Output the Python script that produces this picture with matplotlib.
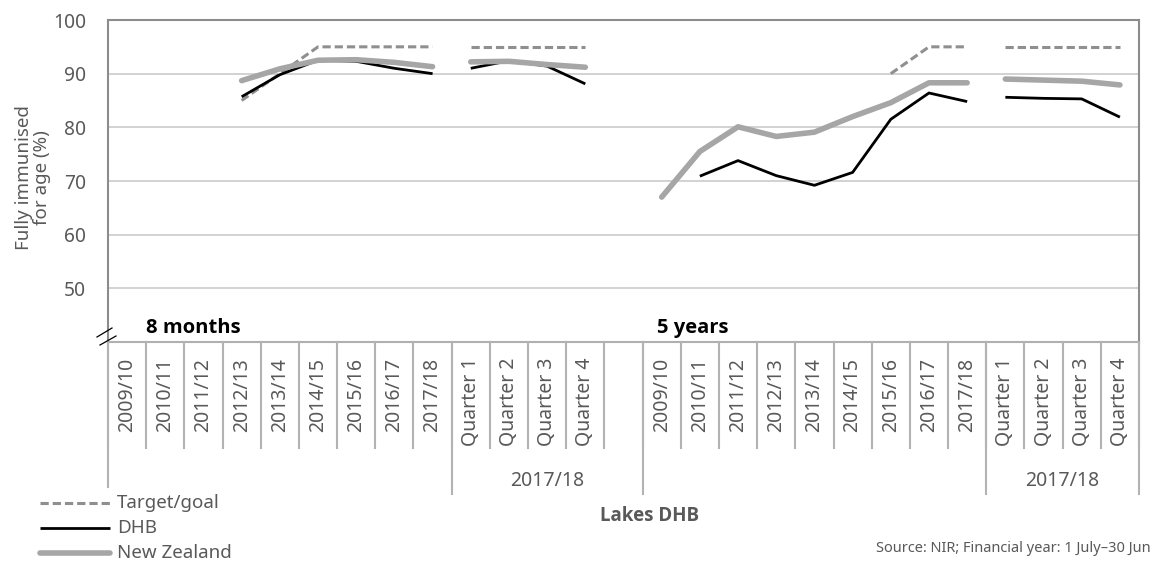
import numpy as np
import matplotlib
matplotlib.use('Agg')
import matplotlib.pyplot as plt
from matplotlib.transforms import blended_transform_factory
from matplotlib.lines import Line2D

plt.rcParams['font.family'] = ['Noto Sans', 'DejaVu Sans']
BOLD_FAMILY = ['Open Sans', 'DejaVu Sans']

# ---------------- data ----------------
years = ['2009/10', '2010/11', '2011/12', '2012/13', '2013/14',
         '2014/15', '2015/16', '2016/17', '2017/18']
quarters = ['Quarter 1', 'Quarter 2', 'Quarter 3', 'Quarter 4']
quarter_group = '2017/18'
age_groups = ['8 months', '5 years']

nan = np.nan
target_8m_annual = [nan, nan, nan, 85, 90, 95, 95, 95, 95]
target_8m_quarter = [95, 95, 95, 95]
dhb_8m_annual = [nan, nan, nan, 85.7, 89.8, 92.5, 92.3, 91.0, 90.0]
dhb_8m_quarter = [91.0, 92.4, 91.4, 88.1]
nz_8m_annual = [nan, nan, nan, 88.7, 90.9, 92.5, 92.6, 92.1, 91.3]
nz_8m_quarter = [92.2, 92.3, 91.7, 91.2]

target_5y_annual = [nan, nan, nan, nan, nan, nan, 90, 95, 95]
target_5y_quarter = [95, 95, 95, 95]
dhb_5y_annual = [nan, 70.9, 73.8, 71.0, 69.2, 71.6, 81.5, 86.4, 84.8]
dhb_5y_quarter = [85.6, 85.4, 85.3, 81.9]
nz_5y_annual = [67.0, 75.5, 80.1, 78.3, 79.1, 82.0, 84.6, 88.3, 88.3]
nz_5y_quarter = [89.0, 88.8, 88.6, 87.9]

series = {
    'Target/goal': [(target_8m_annual, target_8m_quarter), (target_5y_annual, target_5y_quarter)],
    'DHB': [(dhb_8m_annual, dhb_8m_quarter), (dhb_5y_annual, dhb_5y_quarter)],
    'New Zealand': [(nz_8m_annual, nz_8m_quarter), (nz_5y_annual, nz_5y_quarter)],
}

# ---------------- styles ----------------
W, H = 1152, 562
TXT = '#595959'
styles = {
    'Target/goal': dict(color='#8f8f8f', lw=2.2, linestyle=(0, (2.7, 1.3)), zorder=3),
    'DHB': dict(color='black', lw=2.0, zorder=4, solid_capstyle='butt'),
    'New Zealand': dict(color='#a6a6a6', lw=4.0, zorder=5, solid_capstyle='round'),
}

fig = plt.figure(figsize=(W / 100, H / 100), dpi=100)
L, R, T, B = 108, 1139, 20, 342
ax = fig.add_axes([L / W, 1 - B / H, (R - L) / W, (B - T) / H])

n_ann, n_q = len(years), len(quarters)
group_len = n_ann + n_q
n_slots = 2 * group_len + 1
starts = [0, group_len + 1]

ax.set_xlim(0, n_slots)
ax.set_ylim(40, 100)
ax.set_xticks([])
ax.set_yticks([50, 60, 70, 80, 90, 100])
ax.tick_params(axis='y', length=0, pad=16, labelsize=13.8, labelcolor=TXT)
for v in [50, 60, 70, 80, 90]:
    ax.axhline(v, color='#cfcfcf', lw=1.3, zorder=1)
for s in ['top', 'left', 'right']:
    ax.spines[s].set_color('#8c8c8c')
    ax.spines[s].set_linewidth(1.5)
ax.spines['bottom'].set_color('#b0b0b0')
ax.spines['bottom'].set_linewidth(1.5)

for name, groups in series.items():
    for g, (ann, q) in enumerate(groups):
        s0 = starts[g]
        xa = s0 + np.arange(n_ann) + 0.5
        xq = s0 + n_ann + np.arange(n_q) + 0.5
        ax.plot(xa, ann, **styles[name])
        ax.plot(xq, q, **styles[name])

def Y(px):
    return 1 - px / H

trans = blended_transform_factory(ax.transData, fig.transFigure)

# group titles inside plot
title_px = [146, 657]
for t, xp in zip(age_groups, title_px):
    fig.text(xp / W, Y(333), t, fontsize=14.5, fontweight='bold', color='black',
             ha='left', va='baseline', family=BOLD_FAMILY)

# category labels
for g in range(2):
    s0 = starts[g]
    labs = years + quarters
    for i, lab in enumerate(labs):
        fig.text(s0 + i + 0.5, Y(358), lab, rotation=90, ha='center', va='top',
                 fontsize=14, color=TXT, transform=trans)

# divider lines
div_col = '#b3b3b3'
for b in range(n_slots + 1):
    fig.add_artist(Line2D([b, b], [Y(342), Y(448)], color=div_col, lw=1.5, transform=trans))
for b, end in [(0, 487), (9, 494), (14, 494), (23, 494), (27, 494)]:
    fig.add_artist(Line2D([b, b], [Y(342), Y(end)], color=div_col, lw=1.5, transform=trans))

# second-level labels
fig.text((9 + 14) / 2, Y(481), quarter_group, ha='center', va='center', fontsize=14,
         color=TXT, transform=trans)
fig.text((23 + 27) / 2, Y(481), quarter_group, ha='center', va='center', fontsize=14,
         color=TXT, transform=trans)

# axis break marks
for (x0, y0, x1, y1) in [(97, 337, 112, 328), (100, 345, 116, 336)]:
    fig.add_artist(Line2D([x0 / W, x1 / W], [Y(y0), Y(y1)], color='black', lw=0.9))

# axis title
fig.text(33 / W, Y(178), 'Fully immunised\nfor age (%)', rotation=90, ha='center', va='center',
         fontsize=13.5, color=TXT, linespacing=1.0)

fig.text(650 / W, Y(516), 'Lakes DHB', ha='center', va='center', fontsize=13.5,
         fontweight='bold', color=TXT, family=BOLD_FAMILY)

# legend
for k, (name, ypx) in enumerate(zip(series.keys(), [503, 528, 553])):
    st = dict(styles[name])
    st.pop('zorder')
    fig.add_artist(Line2D([40 / W, 110 / W], [Y(ypx), Y(ypx)], **st))
    fig.text(117 / W, Y(ypx), name, ha='left', va='center', fontsize=13.5, color=TXT)

fig.text(1151 / W, Y(549), 'Source: NIR; Financial year: 1 July\u201330 Jun', ha='right',
         va='center', fontsize=10.5, color=TXT)

fig.savefig('out.png', dpi=100)
